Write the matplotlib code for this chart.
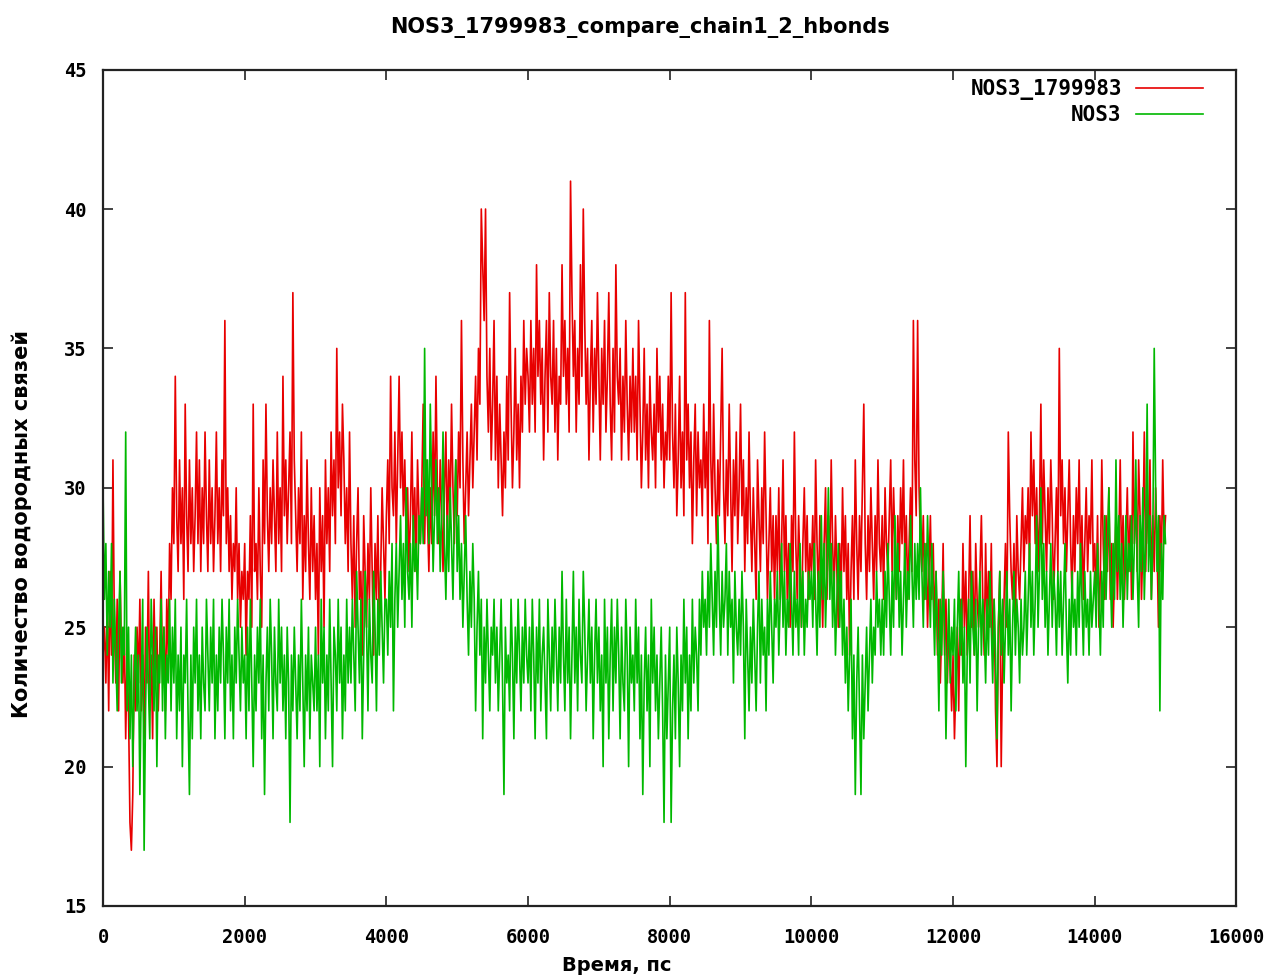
import matplotlib
matplotlib.use("Agg")
import matplotlib.pyplot as plt
import numpy as np

# Time axis: one frame every 20 ps, 0 .. 15000 ps
step_ps = 20

# Hydrogen bonds between chain 1 and chain 2, mutant NOS3_1799983 (25 frames per row = 500 ps)
hb_mutant = [
    24, 25, 23, 26, 22, 27, 24, 31, 25, 23, 26, 22, 27, 24, 23, 25, 21, 24, 22, 18, 17, 19, 24, 22, 25,
    23, 26, 22, 24, 21, 25, 23, 27, 22, 24, 21, 26, 23, 25, 22, 24, 27, 23, 25, 22, 26, 24, 28, 26, 30,
    28, 34, 29, 27, 31, 28, 30, 26, 33, 29, 27, 31, 28, 30, 27, 29, 32, 28, 31, 27, 30, 28, 32, 29, 27,
    31, 28, 30, 27, 29, 32, 28, 30, 27, 31, 29, 36, 28, 30, 27, 29, 26, 28, 27, 30, 26, 28, 25, 27, 26,
    28, 24, 27, 26, 29, 25, 33, 27, 28, 26, 30, 27, 25, 31, 28, 33, 29, 27, 30, 28, 31, 29, 27, 32, 28,
    30, 27, 34, 29, 31, 28, 30, 32, 28, 37, 31, 29, 27, 30, 28, 32, 26, 29, 27, 31, 28, 26, 30, 27, 29,
    26, 28, 24, 30, 27, 29, 25, 31, 28, 30, 27, 32, 29, 31, 28, 35, 30, 32, 29, 33, 31, 28, 30, 27, 32,
    28, 26, 29, 25, 28, 30, 26, 27, 24, 29, 27, 25, 28, 26, 30, 27, 24, 28, 26, 29, 25, 27, 30, 28, 26,
    29, 31, 28, 34, 30, 29, 32, 28, 31, 34, 30, 32, 29, 31, 28, 30, 27, 29, 32, 28, 30, 27, 31, 29, 28,
    30, 33, 28, 31, 29, 27, 30, 28, 32, 29, 34, 30, 28, 31, 29, 27, 30, 32, 28, 31, 29, 33, 30, 28, 31,
    29, 32, 30, 36, 31, 28, 30, 32, 29, 31, 33, 30, 32, 34, 31, 35, 33, 40, 38, 36, 40, 34, 32, 35, 31,
    33, 36, 31, 34, 30, 33, 31, 29, 32, 30, 34, 31, 37, 33, 30, 32, 35, 31, 33, 30, 34, 32, 36, 33, 35,
    34, 32, 36, 33, 35, 32, 38, 34, 36, 33, 35, 31, 34, 36, 32, 37, 34, 33, 36, 32, 35, 31, 34, 33, 38,
    34, 36, 33, 35, 32, 41, 37, 34, 36, 32, 35, 33, 38, 34, 40, 36, 33, 35, 31, 34, 36, 32, 35, 33, 37,
    34, 31, 35, 33, 36, 32, 34, 37, 33, 31, 35, 32, 38, 34, 33, 35, 31, 34, 32, 36, 33, 31, 34, 32, 35,
    32, 34, 31, 36, 33, 30, 32, 35, 31, 33, 30, 34, 32, 31, 33, 30, 35, 32, 34, 31, 33, 30, 32, 31, 34,
    31, 37, 32, 30, 33, 29, 31, 34, 30, 32, 29, 37, 31, 33, 30, 32, 28, 31, 33, 29, 32, 30, 31, 29, 33,
    30, 32, 28, 36, 31, 29, 33, 30, 28, 31, 29, 32, 35, 30, 28, 31, 29, 33, 30, 27, 31, 29, 32, 28, 30,
    33, 29, 31, 27, 30, 28, 32, 29, 27, 30, 28, 26, 31, 29, 27, 30, 28, 32, 29, 26, 28, 30, 27, 29, 26,
    29, 27, 30, 26, 28, 31, 27, 29, 26, 28, 25, 29, 27, 32, 28, 26, 29, 27, 25, 28, 30, 27, 29, 26, 28,
    27, 29, 26, 31, 28, 26, 29, 27, 25, 28, 30, 26, 29, 27, 31, 28, 26, 29, 27, 25, 28, 26, 30, 27, 29,
    26, 28, 24, 27, 29, 26, 31, 28, 26, 29, 27, 30, 33, 28, 26, 29, 27, 30, 28, 26, 29, 27, 31, 28, 27,
    29, 26, 30, 28, 27, 29, 31, 27, 30, 28, 26, 29, 27, 30, 28, 31, 27, 29, 26, 28, 30, 27, 36, 31, 29,
    36, 30, 28, 27, 29, 26, 28, 25, 27, 29, 26, 28, 25, 27, 24, 26, 23, 25, 28, 24, 26, 23, 25, 24, 22,
    24, 21, 23, 25, 22, 26, 24, 28, 25, 27, 24, 26, 29, 25, 27, 24, 28, 26, 25, 27, 29, 26, 24, 28, 25,
    27, 25, 28, 24, 26, 22, 20, 25, 27, 20, 24, 26, 28, 25, 32, 29, 27, 26, 28, 25, 29, 27, 26, 28, 30,
    27, 29, 28, 30, 27, 32, 29, 31, 28, 30, 27, 29, 33, 28, 31, 29, 27, 30, 28, 31, 29, 26, 28, 30, 27,
    35, 29, 31, 28, 30, 27, 29, 31, 28, 26, 29, 27, 30, 28, 31, 27, 29, 26, 28, 30, 27, 29, 28, 31, 27,
    28, 26, 29, 25, 27, 31, 28, 26, 29, 27, 30, 26, 28, 25, 27, 29, 26, 28, 31, 27, 29, 26, 28, 30, 27,
    29, 26, 32, 28, 30, 27, 31, 29, 26, 28, 32, 27, 30, 28, 31, 26, 29, 27, 30, 28, 25, 29, 27, 31, 28,
    29,
]

# Hydrogen bonds between chain 1 and chain 2, wild type NOS3 (25 frames per row = 500 ps)
hb_wild = [
    30, 26, 28, 24, 27, 25, 28, 23, 26, 24, 22, 25, 27, 23, 25, 24, 32, 22, 25, 21, 24, 20, 23, 25, 22,
    24, 19, 23, 26, 17, 22, 25, 23, 21, 26, 24, 22, 25, 20, 24, 23, 26, 22, 25, 21, 24, 23, 26, 22, 25,
    23, 26, 21, 24, 22, 25, 20, 24, 23, 26, 22, 19, 24, 21, 25, 23, 26, 22, 24, 21, 25, 23, 22, 26, 24,
    22, 25, 23, 26, 21, 24, 22, 25, 23, 26, 24, 21, 25, 23, 26, 22, 24, 21, 25, 23, 26, 24, 22, 25, 23,
    24, 21, 25, 22, 26, 23, 20, 24, 22, 25, 23, 26, 21, 24, 19, 23, 25, 22, 26, 24, 21, 25, 23, 22, 26,
    23, 25, 22, 24, 21, 25, 23, 18, 24, 22, 25, 23, 21, 24, 22, 26, 23, 20, 24, 22, 25, 21, 24, 23, 22,
    25, 22, 24, 20, 26, 23, 25, 21, 24, 22, 26, 23, 20, 25, 24, 22, 26, 23, 25, 21, 24, 22, 26, 23, 25,
    23, 26, 24, 22, 27, 25, 23, 26, 21, 24, 27, 25, 22, 26, 24, 23, 27, 25, 22, 26, 24, 27, 25, 23, 26,
    26, 24, 27, 25, 28, 22, 26, 28, 25, 27, 29, 26, 28, 25, 30, 27, 26, 28, 25, 29, 27, 28, 26, 29, 28,
    30, 28, 35, 29, 31, 28, 33, 30, 27, 29, 31, 28, 30, 27, 29, 32, 28, 26, 29, 27, 30, 28, 26, 29, 31,
    27, 29, 26, 28, 25, 27, 29, 26, 24, 27, 25, 28, 26, 22, 25, 27, 24, 26, 21, 25, 23, 26, 24, 22, 25,
    24, 26, 23, 25, 22, 24, 26, 23, 19, 25, 23, 24, 22, 26, 24, 21, 25, 23, 26, 24, 22, 25, 23, 26, 24,
    23, 25, 22, 26, 24, 21, 25, 23, 26, 22, 24, 25, 23, 21, 26, 24, 22, 25, 23, 26, 24, 22, 25, 23, 27,
    24, 22, 26, 23, 25, 21, 24, 27, 23, 25, 22, 26, 24, 23, 27, 25, 22, 24, 26, 23, 25, 21, 24, 26, 23,
    25, 22, 24, 20, 26, 23, 25, 21, 24, 26, 22, 25, 23, 26, 24, 21, 25, 23, 22, 26, 24, 20, 25, 23, 24,
    22, 26, 23, 25, 21, 24, 19, 23, 25, 22, 24, 20, 26, 23, 25, 22, 24, 21, 23, 25, 22, 18, 24, 21, 23,
    25, 18, 22, 24, 21, 25, 23, 20, 24, 22, 26, 23, 25, 21, 24, 22, 26, 23, 25, 24, 22, 26, 24, 27, 25,
    26, 24, 27, 25, 28, 26, 24, 27, 25, 29, 26, 24, 27, 25, 26, 28, 24, 27, 25, 26, 23, 27, 25, 24, 26,
    24, 27, 25, 21, 26, 24, 22, 25, 23, 26, 24, 22, 25, 27, 23, 26, 24, 25, 22, 26, 24, 27, 25, 23, 26,
    25, 27, 24, 26, 28, 25, 27, 24, 26, 25, 28, 26, 24, 27, 25, 26, 24, 28, 25, 27, 24, 26, 25, 27, 26,
    27, 25, 28, 26, 24, 27, 25, 29, 26, 28, 25, 27, 30, 26, 28, 25, 27, 24, 26, 28, 25, 27, 24, 26, 23,
    25, 22, 24, 26, 21, 24, 19, 23, 25, 22, 19, 24, 21, 23, 25, 22, 24, 26, 23, 25, 24, 27, 25, 26, 24,
    26, 24, 27, 25, 28, 26, 24, 27, 25, 29, 26, 28, 25, 27, 24, 26, 28, 25, 27, 26, 29, 27, 25, 28, 26,
    28, 26, 30, 27, 25, 28, 26, 29, 27, 25, 28, 26, 24, 27, 25, 22, 26, 24, 27, 25, 21, 24, 26, 23, 25,
    24, 26, 22, 25, 27, 24, 26, 23, 25, 20, 24, 26, 23, 27, 25, 24, 26, 22, 25, 27, 24, 26, 25, 23, 26,
    24, 27, 25, 23, 26, 24, 21, 25, 27, 24, 26, 23, 25, 27, 24, 26, 22, 25, 27, 24, 26, 25, 23, 26, 24,
    25, 27, 24, 26, 28, 25, 27, 24, 26, 29, 25, 27, 30, 26, 28, 25, 27, 24, 26, 28, 25, 27, 26, 24, 27,
    25, 27, 24, 26, 28, 25, 23, 26, 24, 27, 25, 26, 24, 27, 25, 28, 26, 24, 27, 25, 26, 24, 27, 25, 26,
    27, 25, 28, 26, 24, 27, 25, 29, 26, 28, 30, 27, 25, 28, 26, 31, 27, 29, 26, 28, 25, 27, 29, 26, 28,
    27, 29, 26, 28, 31, 27, 25, 29, 27, 30, 26, 28, 33, 27, 29, 26, 28, 35, 30, 27, 29, 22, 28, 26, 29,
    28,
]

x_ticks = [0, 2000, 4000, 6000, 8000, 10000, 12000, 14000, 16000]
y_ticks = [15, 20, 25, 30, 35, 40, 45]

title_text = "NOS3_1799983_compare_chain1_2_hbonds"
x_label = "Время, пс"
y_label = "Количество водородных связей"
series_names = ["NOS3_1799983", "NOS3"]

t_mut = np.arange(len(hb_mutant)) * step_ps
t_wild = np.arange(len(hb_wild)) * step_ps

W, H = 1272, 977
fig = plt.figure(figsize=(W / 100, H / 100), dpi=100)
ax = fig.add_axes([0.081, 0.0727, 0.891, 0.856])

mono = {"family": "DejaVu Sans Mono", "weight": "bold", "size": 13.5}
sans = {"family": "DejaVu Sans", "weight": "bold"}

ax.plot(t_mut, hb_mutant, color="#e80000", lw=1.2, label=series_names[0])
ax.plot(t_wild, hb_wild, color="#00b800", lw=1.2, label=series_names[1])

ax.set_xlim(0, 16000)
ax.set_ylim(15, 45)
ax.set_xticks(x_ticks)
ax.set_yticks(y_ticks)
ax.set_xticklabels([str(v) for v in x_ticks], fontdict=mono)
ax.set_yticklabels([str(v) for v in y_ticks], fontdict=mono)
ax.tick_params(direction="in", length=7, width=1.2, top=True, right=True,
               color="#222222")
ax.tick_params(axis="x", pad=16)
ax.tick_params(axis="y", pad=12)
for sp in ax.spines.values():
    sp.set_linewidth(1.6)
    sp.set_color("#222222")

fig.text(0.5035, 0.972, title_text, ha="center", va="center", fontsize=15, **sans)
fig.text(0.485, 0.012, x_label, ha="center", va="center", fontsize=14, **sans)
fig.text(0.017, 0.4637, y_label, ha="center", va="center", rotation=90,
         fontsize=15, **sans)

leg = ax.legend(loc="upper right", frameon=False, markerfirst=False,
                prop={"family": "DejaVu Sans Mono", "weight": "bold", "size": 15},
                handlelength=3.2, handletextpad=0.7, labelspacing=0.25,
                borderpad=0.0, borderaxespad=0.0,
                bbox_to_anchor=(1203 / W, 1 - 79 / H), bbox_transform=fig.transFigure)
for t in leg.get_texts():
    t.set_ha("right")

fig.savefig("out.png", dpi=100, facecolor="white")
